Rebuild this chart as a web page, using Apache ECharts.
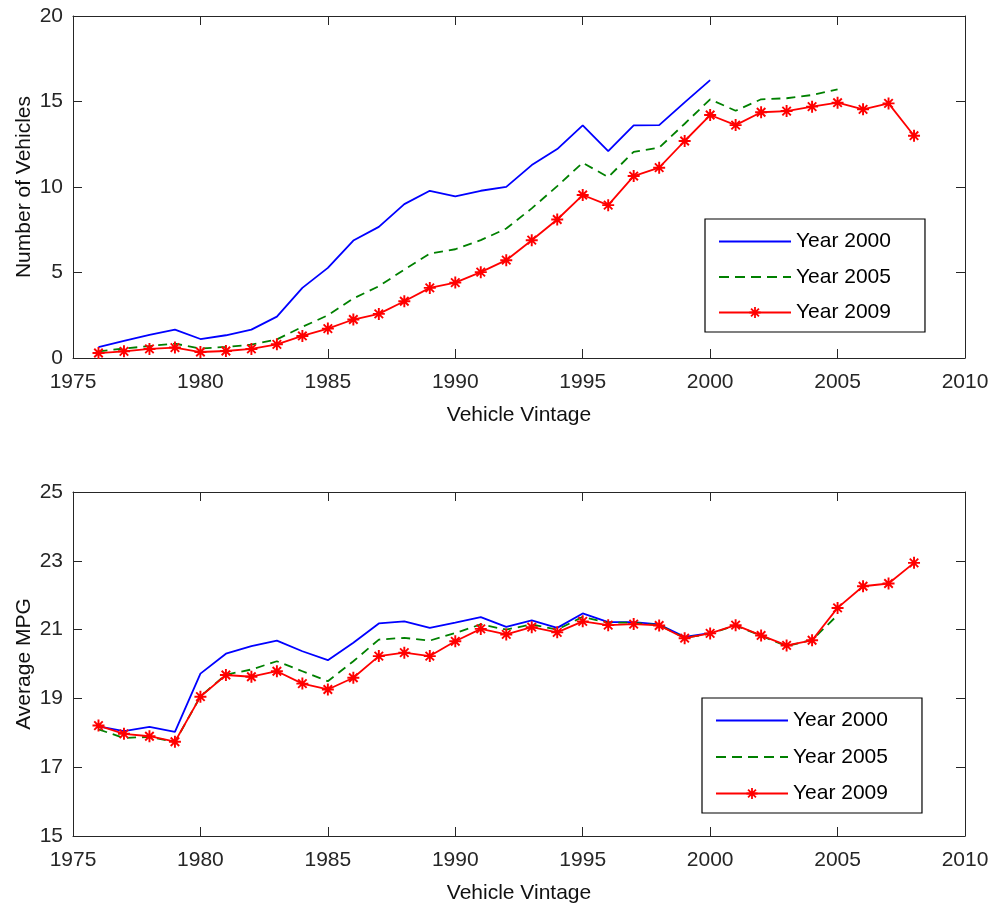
<!DOCTYPE html>
<html>
<head>
<meta charset="utf-8">
<script src="https://cdn.jsdelivr.net/npm/echarts@6/dist/echarts.min.js"></script>
<style>
  html, body { margin: 0; padding: 0; background: #fff; }
  #main { width: 994px; height: 908px; }
</style>
</head>
<body>
<div id="main"></div>
<script>
// model years on the x axis
var vintage = [1976, 1977, 1978, 1979, 1980, 1981, 1982, 1983, 1984, 1985, 1986,
  1987, 1988, 1989, 1990, 1991, 1992, 1993, 1994, 1995, 1996, 1997, 1998, 1999,
  2000, 2001, 2002, 2003, 2004, 2005, 2006, 2007, 2008];
var names = ['Year 2000', 'Year 2005', 'Year 2009'];

// number of vehicles (top panel)
var count2000 = [0.64, 1.0, 1.35, 1.66, 1.11, 1.33, 1.66, 2.42, 4.1, 5.27, 6.87,
  7.67, 9.0, 9.78, 9.45, 9.78, 10.01, 11.28, 12.22, 13.6, 12.1, 13.6, 13.62, 14.95, 16.25];
var count2005 = [0.39, 0.55, 0.7, 0.84, 0.55, 0.65, 0.78, 1.09, 1.82, 2.5, 3.48,
  4.2, 5.17, 6.11, 6.36, 6.89, 7.57, 8.75, 10.05, 11.42, 10.58, 12.06, 12.3, 13.7,
  15.13, 14.46, 15.13, 15.19, 15.38, 15.71];
var count2009 = [0.29, 0.39, 0.53, 0.61, 0.35, 0.41, 0.53, 0.8, 1.29, 1.72, 2.25,
  2.58, 3.32, 4.1, 4.41, 5.02, 5.72, 6.89, 8.1, 9.53, 8.94, 10.64, 11.13, 12.69,
  14.21, 13.62, 14.37, 14.44, 14.7, 14.93, 14.54, 14.89, 13.0];

// average mpg (bottom panel)
var mpg2000 = [18.19, 18.05, 18.17, 18.03, 19.72, 20.3, 20.52, 20.68, 20.37, 20.11, 20.62,
  21.18, 21.24, 21.05, 21.2, 21.36, 21.08, 21.27, 21.05, 21.47, 21.22, 21.22, 21.15, 20.79, 20.9];
var mpg2005 = [18.1, 17.85, 17.88, 17.73, 19.06, 19.69, 19.84, 20.08, 19.79, 19.5, 20.08,
  20.71, 20.76, 20.68, 20.9, 21.15, 21.0, 21.15, 21.0, 21.37, 21.2, 21.2, 21.13, 20.76,
  20.88, 21.12, 20.82, 20.52, 20.7, 21.42];
var mpg2009 = [18.21, 17.97, 17.9, 17.74, 19.05, 19.68, 19.63, 19.79, 19.43, 19.26, 19.6,
  20.23, 20.33, 20.23, 20.66, 21.02, 20.86, 21.07, 20.92, 21.24, 21.13, 21.16, 21.12, 20.75,
  20.89, 21.13, 20.83, 20.54, 20.69, 21.63, 22.26, 22.34, 22.94];

var axisColor = '#262626';
var font = 'Liberation Sans, Arial, Helvetica, sans-serif';
var fs = 21;
// matlab style '*' marker
var asterisk = 'path://M0 8.4H20V11.6H0Z M8.4 0H11.6V20H8.4Z ' +
  'M4.06 1.8L18.2 15.94L15.94 18.2L1.8 4.06Z ' +
  'M18.2 4.06L4.06 18.2L1.8 15.94L15.94 1.8Z';
// legend icons for the plain lines (solid and dashed)
var solidIcon = 'path://M0 0H72V1.8H0Z';
var dashIcon = 'path://M0 0H10V1.8H0Z M16 0H26V1.8H16Z M32 0H42V1.8H32Z ' +
  'M48 0H58V1.8H48Z M64 0H72V1.8H64Z';

function pairs(vals) {
  return vals.map(function (v, i) { return [vintage[i], v]; });
}

function xAx(grid, pos, title) {
  return {
    type: 'value', gridIndex: grid, position: pos,
    min: 1975, max: 2010, interval: 5,
    name: title, nameLocation: 'middle', nameGap: 47,
    nameTextStyle: { fontFamily: font, fontSize: fs, color: '#111' },
    axisLine: { show: true, onZero: false, lineStyle: { color: axisColor, width: 1 } },
    axisTick: { show: true, inside: true, length: 9, lineStyle: { color: axisColor } },
    axisLabel: {
      show: pos === 'bottom', margin: 14, fontFamily: font, fontSize: fs, color: axisColor,
      formatter: function (v) { return String(v); }
    },
    splitLine: { show: false }
  };
}

function yAx(grid, pos, mn, mx, step, title) {
  return {
    type: 'value', gridIndex: grid, position: pos,
    min: mn, max: mx, interval: step,
    name: title, nameLocation: 'middle', nameGap: 38, nameMoveOverlap: false,
    nameTextStyle: { fontFamily: font, fontSize: fs, color: '#111' },
    axisLine: { show: true, onZero: false, lineStyle: { color: axisColor, width: 1 } },
    axisTick: { show: true, inside: true, length: 9, lineStyle: { color: axisColor } },
    axisLabel: { show: pos === 'left', margin: 10, fontFamily: font, fontSize: fs, color: axisColor },
    splitLine: { show: false }
  };
}

function lines(grid, a, b, c) {
  return [{
    name: names[0], type: 'line', xAxisIndex: grid * 2, yAxisIndex: grid * 2,
    data: pairs(a), symbol: 'none',
    lineStyle: { color: '#0000ff', width: 1.8 }, itemStyle: { color: '#0000ff' }
  }, {
    name: names[1], type: 'line', xAxisIndex: grid * 2, yAxisIndex: grid * 2,
    data: pairs(b), symbol: 'none',
    lineStyle: { color: '#008000', width: 1.8, type: [9, 6] }, itemStyle: { color: '#008000' }
  }, {
    name: names[2], type: 'line', xAxisIndex: grid * 2, yAxisIndex: grid * 2,
    data: pairs(c), symbol: asterisk, symbolSize: 12, showAllSymbol: true,
    lineStyle: { color: '#ff0000', width: 1.8 }, itemStyle: { color: '#ff0000' }
  }];
}

function legendAt(left, top, gap) {
  return {
    orient: 'vertical', left: left, top: top,
    data: [
      { name: names[0], icon: solidIcon },
      { name: names[1], icon: dashIcon },
      { name: names[2] }
    ],
    itemWidth: 72, itemHeight: 14, itemGap: gap, symbolKeepAspect: true,
    padding: [12, 34, 9, 13],
    borderColor: '#000', borderWidth: 1.2, backgroundColor: '#fff',
    textStyle: { fontFamily: font, fontSize: fs, lineHeight: 20, color: '#000' },
    selectedMode: false
  };
}

var myChart = echarts.init(document.getElementById('main'), null, { renderer: 'canvas' });
var option = {
  animation: false,
  backgroundColor: '#fff',
  grid: [
    { left: 73, right: 29, top: 16, height: 342 },
    { left: 73, right: 29, top: 492, height: 344 }
  ],
  xAxis: [
    xAx(0, 'bottom', 'Vehicle Vintage'), xAx(0, 'top', ''),
    xAx(1, 'bottom', 'Vehicle Vintage'), xAx(1, 'top', '')
  ],
  yAxis: [
    yAx(0, 'left', 0, 20, 5, 'Number of Vehicles'), yAx(0, 'right', 0, 20, 5, ''),
    yAx(1, 'left', 15, 25, 2, 'Average MPG'), yAx(1, 'right', 15, 25, 2, '')
  ],
  legend: [legendAt(705, 219, 14.5), legendAt(702, 698, 15.5)],
  series: lines(0, count2000, count2005, count2009)
    .concat(lines(1, mpg2000, mpg2005, mpg2009))
};
myChart.setOption(option);
</script>
</body>
</html>
